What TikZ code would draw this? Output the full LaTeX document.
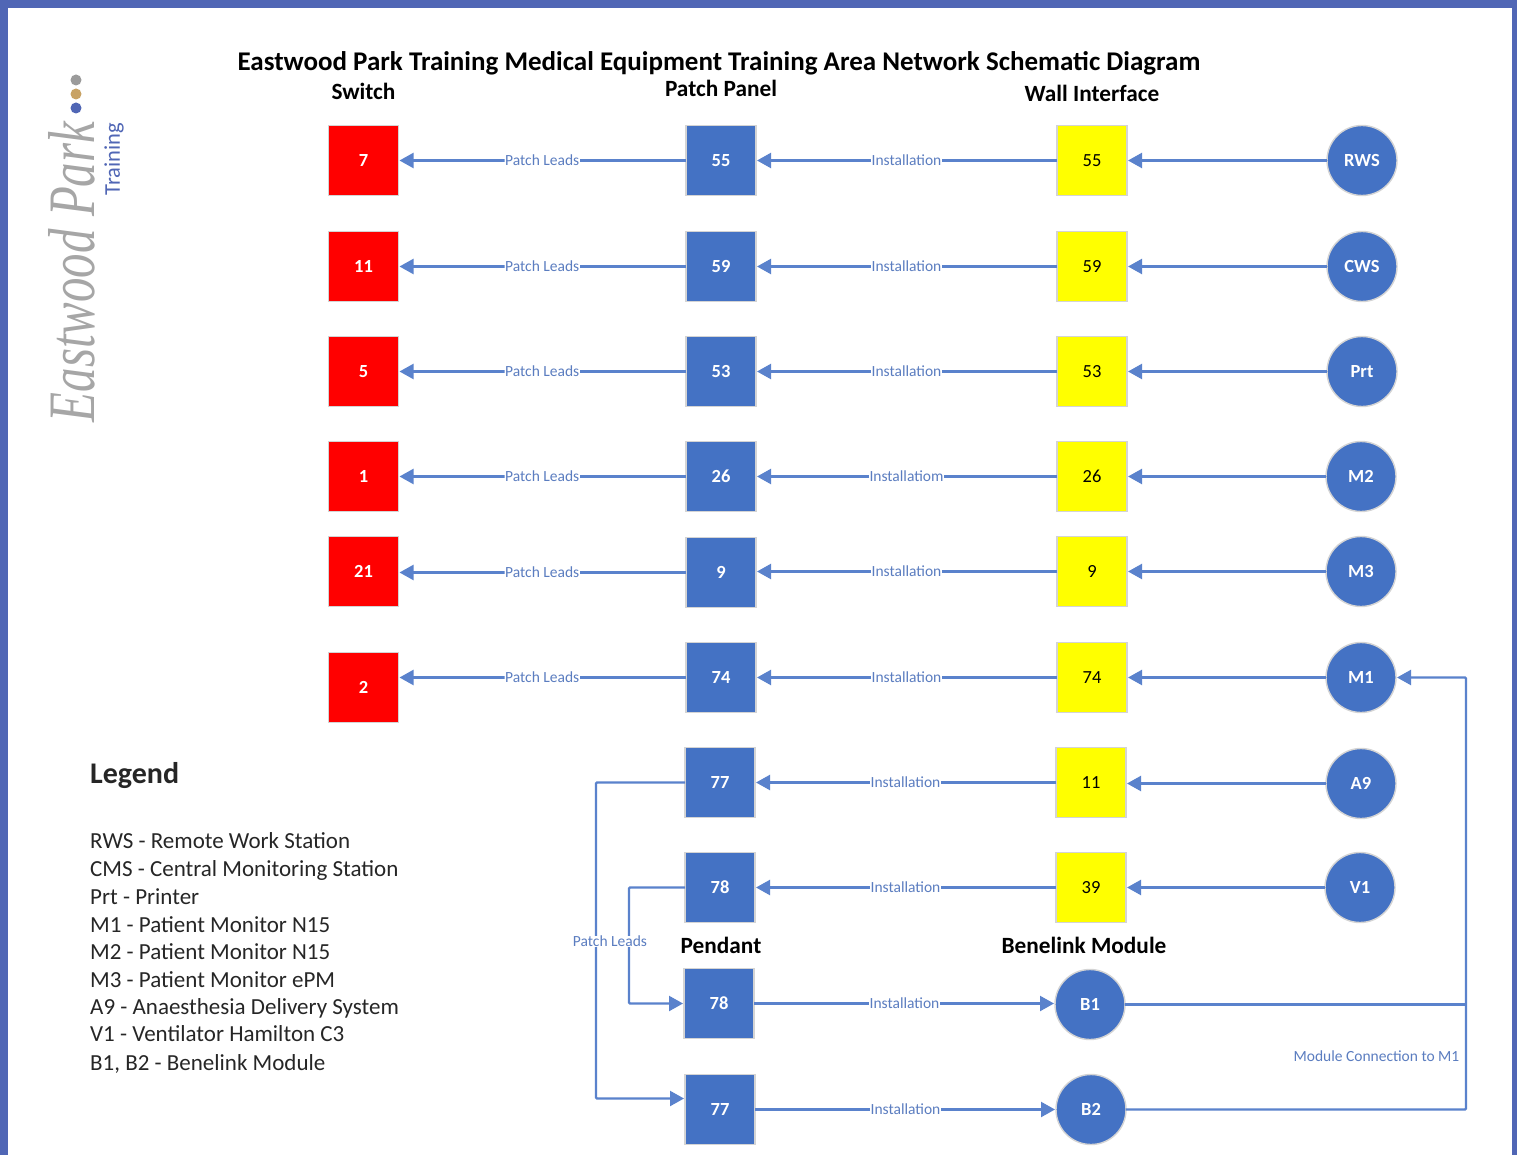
\documentclass[tikz,border=0pt]{standalone}
\usepackage{fontspec}
\setmainfont{Carlito}
\newfontfamily\logofont{Liberation Serif}
\usetikzlibrary{arrows.meta,calc}
\definecolor{frameblue}{HTML}{5066B5}
\definecolor{nodeblue}{HTML}{4472C4}
\definecolor{linkblue}{HTML}{5A82CC}
\definecolor{edgegrey}{HTML}{D4D4D4}
\definecolor{labelblue}{HTML}{5B7DC0}
\definecolor{pureyellow}{HTML}{FFFF00}
\definecolor{purered}{HTML}{FF0000}
\definecolor{logogrey}{HTML}{A6A6A6}
\definecolor{dotgrey}{HTML}{9B9B9B}
\definecolor{dotgold}{HTML}{C8A264}
\tikzset{
  x=1pt,y=-1pt,
  base/.style={minimum size=70pt,inner sep=0pt,outer sep=0pt,yshift=-0.5pt,draw=edgegrey,line width=1.4pt,font=\fontsize{18.5}{21}\selectfont\bfseries},
  redbox/.style={base,rectangle,fill=purered,text=white},
  bluebox/.style={base,rectangle,fill=nodeblue,text=white},
  yellowbox/.style={base,rectangle,fill=pureyellow,text=black,font=\fontsize{18.5}{21}\selectfont},
  endpoint/.style={base,circle,fill=nodeblue,text=white},
  link/.style={draw=linkblue,line width=2.2pt,rounded corners=1pt},
  arrowlink/.style={link,-{Triangle[length=14pt,width=15pt]},shorten >=1pt},
  linklabel/.style={fill=white,inner sep=0.5pt,text=labelblue,font=\fontsize{15.5}{17}\selectfont},
  heading/.style={inner sep=0pt,text=black,font=\fontsize{23.3}{27}\selectfont\bfseries},
  legendline/.style={anchor=base west,inner sep=0pt,text=black!85,font=\fontsize{23}{26}\selectfont},
}
\begin{document}
\begin{tikzpicture}
\useasboundingbox (0,0) rectangle (1517,1155);
\fill[white] (0,0) rectangle (1517,1155);
\fill[frameblue] (0,0) rectangle (1517,8);
\fill[frameblue] (0,0) rectangle (8,1155);
\fill[frameblue] (1512,0) rectangle (1517,1155);

% logo
\fill[dotgrey] (76,80) circle (5.5);
\fill[dotgold] (76,94) circle (5.5);
\fill[frameblue] (76,108) circle (5.5);
\node[rotate=90,inner sep=0pt,text=logogrey] (logoname) at (72,272) {\resizebox{300pt}{46pt}{\logofont\itshape Eastwood Park}};
\node[rotate=90,inner sep=0pt,text=frameblue] (logotraining) at (114,159) {\fontsize{22.5}{25}\selectfont Training};

% titles
\node[heading,font=\fontsize{27}{31}\selectfont\bfseries] (title) at (719,63) {Eastwood Park Training Medical Equipment Training Area Network Schematic Diagram};
\node[heading] (hswitch) at (363.5,91) {Switch};
\node[heading] (hpatch) at (721,88) {Patch Panel};
\node[heading] (hwall) at (1092,93) {Wall Interface};
\node[heading] (hpendant) at (721,945) {Pendant};
\node[heading] (hbene) at (1084,945) {Benelink Module};

% switch
\node[redbox] (s1) at (363.5,160) {7};
\node[redbox] (s2) at (363.5,266) {11};
\node[redbox] (s3) at (363.5,371) {5};
\node[redbox] (s4) at (363.5,476) {1};
\node[redbox] (s5) at (363.5,571) {21};
\node[redbox] (s6) at (363.5,687) {2};
% patch panel
\node[bluebox] (p1) at (721,160) {55};
\node[bluebox] (p2) at (721,266) {59};
\node[bluebox] (p3) at (721,371) {53};
\node[bluebox] (p4) at (721,476) {26};
\node[bluebox] (p5) at (721,572) {9};
\node[bluebox] (p6) at (721,677) {74};
\node[bluebox] (p7) at (720,782) {77};
\node[bluebox] (p8) at (720,887) {78};
% wall
\node[yellowbox] (w1) at (1092,160) {55};
\node[yellowbox] (w2) at (1092,266) {59};
\node[yellowbox] (w3) at (1092,371) {53};
\node[yellowbox] (w4) at (1092,476) {26};
\node[yellowbox] (w5) at (1092,571) {9};
\node[yellowbox] (w6) at (1092,677) {74};
\node[yellowbox] (w7) at (1091,782) {11};
\node[yellowbox] (w8) at (1091,887) {39};
% endpoints
\node[endpoint] (e1) at (1362,160) {RWS};
\node[endpoint] (e2) at (1362,266) {CWS};
\node[endpoint] (e3) at (1362,371) {Prt};
\node[endpoint] (e4) at (1361,476) {M2};
\node[endpoint] (e5) at (1361,571) {M3};
\node[endpoint] (e6) at (1361,677) {M1};
\node[endpoint] (e7) at (1361,783) {A9};
\node[endpoint] (e8) at (1360,887) {V1};
% pendant and benelink
\node[bluebox] (d1) at (719,1003) {78};
\node[bluebox] (d2) at (720,1109) {77};
\node[endpoint] (b1) at (1090,1004) {B1};
\node[endpoint] (b2) at (1091,1109) {B2};

% endpoint to wall
\foreach \i in {1,...,8}{
  \draw[arrowlink] (e\i.west) -- (w\i.east |- e\i.west);
}
% wall to patch
\foreach \i/\t in {1/Installation,2/Installation,3/Installation,4/Installatiom,5/Installation,6/Installation,7/Installation,8/Installation}{
  \draw[arrowlink] (w\i.west) -- (p\i.east |- w\i.west) node[linklabel,pos=0.5] {\t};
}
% patch to switch
\foreach \i in {1,...,6}{
  \draw[arrowlink] (p\i.west) -- (s\i.east |- p\i.west) node[linklabel,pos=0.5] {Patch Leads};
}
% pendant to benelink
\foreach \i in {1,2}{
  \draw[arrowlink] (d\i.east) -- (b\i.west |- d\i.east) node[linklabel,pos=0.5] {Installation};
}
% patch leads down to pendant
\coordinate (leftbus) at (596,782.5);
\coordinate (innerbus) at (629,887.5);
\coordinate (d2in) at (d2.west |- 0,1098.5);
\draw[arrowlink] (p7.west) -- (leftbus) |- (d2in);
\draw[arrowlink] (p8.west) -- (innerbus) |- (d1.west);
\node[linklabel] (plabel) at (610,941.5) {Patch Leads};

% module connection
\coordinate (rightbus) at (1466,1109.5);
\coordinate (busjoin) at (1466,1004.5);
\draw[arrowlink] (b2.east) -- (rightbus) |- (e6.east);
\draw[link] (b1.east) -- (busjoin);
\node[linklabel,fill=none] (mlabel) at (1376.5,1056.5) {Module Connection to M1};

% legend
\node[inner sep=0pt,anchor=base west,text=black!85,font=\fontsize{30}{34}\selectfont\bfseries] (legendtitle) at (90,783) {Legend};
\node[legendline] (l1) at (90,848.5) {RWS - Remote Work Station};
\node[legendline] (l2) at (90,876.5) {CMS - Central Monitoring Station};
\node[legendline] (l3) at (90,904.5) {Prt - Printer};
\node[legendline] (l4) at (90,932.5) {M1 - Patient Monitor N15};
\node[legendline] (l5) at (90,959.5) {M2 - Patient Monitor N15};
\node[legendline] (l6) at (90,987.5) {M3 - Patient Monitor ePM};
\node[legendline] (l7) at (90,1014.5) {A9 - Anaesthesia Delivery System};
\node[legendline] (l8) at (90,1041.5) {V1 - Ventilator Hamilton C3};
\node[legendline] (l9) at (90,1070.5) {B1, B2 - Benelink Module};
\end{tikzpicture}
\end{document}
